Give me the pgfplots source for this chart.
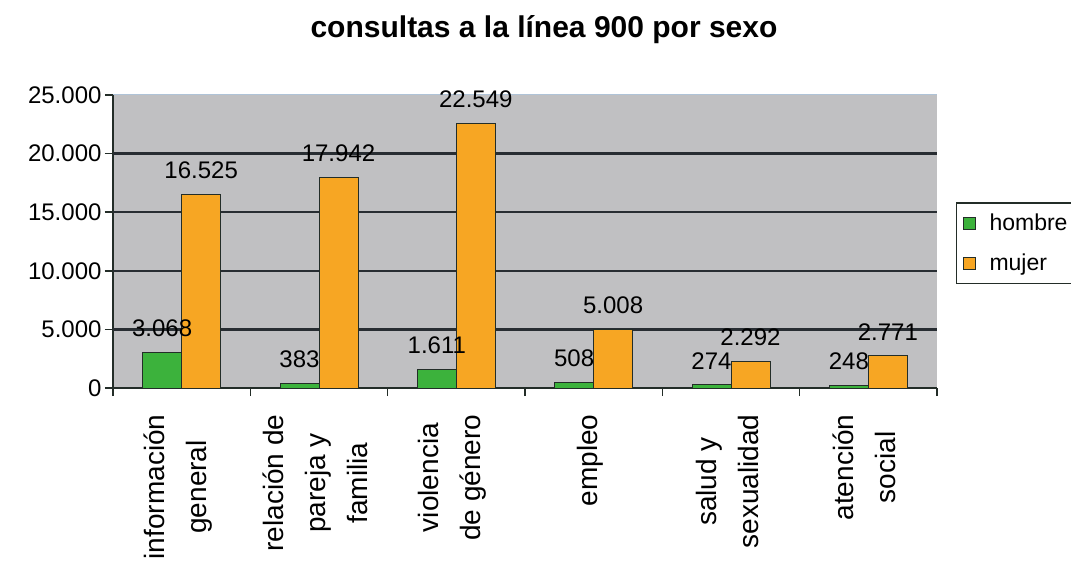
\documentclass[border=0pt]{standalone}
\usepackage{fontspec}
\setmainfont{Liberation Sans}
\usepackage{pgfplots}
\pgfplotsset{compat=1.18}
\definecolor{bgc}{RGB}{192,192,194}
\definecolor{gridc}{RGB}{40,45,50}
\definecolor{lightgridc}{RGB}{175,195,215}
\definecolor{hgreen}{RGB}{60,178,60}
\definecolor{morange}{RGB}{247,166,35}
\definecolor{edgec}{RGB}{35,45,40}
\begin{document}
\begin{tikzpicture}[x=1pt,y=1pt]
\useasboundingbox (0,0) rectangle (1071,568);
\node[font=\fontsize{30}{36}\selectfont\bfseries] at (544,538) {consultas a la línea 900 por sexo};
\begin{axis}[
  at={(113pt,180pt)}, anchor=south west,
  scale only axis, width=824pt, height=293pt,
  xmin=-0.5, xmax=5.5, ymin=0, ymax=25000,
  ybar=0pt, bar width=39pt,
  axis background/.style={fill=bgc},
  axis x line*=bottom, axis y line*=left,
  axis line style={-, line width=1.6pt, color=edgec},
  /pgf/number format/1000 sep={.},
  /pgf/number format/assume math mode=true,
  scaled y ticks=false,
  ytick={0,5000,10000,15000,20000,25000},
  yticklabel style={font=\fontsize{24}{28}\selectfont},
  xtick align=outside, ytick align=outside,
  xtick pos=bottom, ytick pos=left,
  major tick length=8pt,
  tick style={color=edgec, line width=1.4pt},
  ymajorgrids, major grid style={line width=1pt, color=lightgridc},
  extra y ticks={5000,10000,15000,20000},
  extra y tick labels={,,,},
  extra y tick style={major grid style={line width=2.4pt, color=gridc}},
  xtick={-0.5,0.5,1.5,2.5,3.5,4.5,5.5},
  xticklabels={{información\\general},{relación de\\pareja y\\familia},{violencia\\de género},{empleo},{salud y\\sexualidad},{atención\\social},{}},
  xticklabel style={font=\fontsize{28}{42}\selectfont, xshift=65pt, yshift=-15pt, rotate=90, anchor=east, align=center},
  nodes near coords,
  nodes near coords style={font=\fontsize{24}{28}\selectfont, anchor=south, inner sep=0pt, yshift=15pt, text=black},
  legend style={at={(axis description cs:1.023,0.355)}, anchor=south west, draw=edgec, line width=1.2pt, fill=white, font=\fontsize{23}{26}\selectfont, inner xsep=6pt, inner ysep=9pt, row sep=18pt, /tikz/every odd column/.append style={column sep=12pt}},
  legend image code/.code={\draw[#1, line width=1pt] (0pt,-6pt) rectangle (12pt,6pt);},
  legend cell align=left,
]
\addplot[fill=hgreen, draw=edgec, line width=1pt] coordinates {(0,3068) (1,383) (2,1611) (3,508) (4,274) (5,248)};
\addplot[fill=morange, draw=edgec, line width=1pt] coordinates {(0,16525) (1,17942) (2,22549) (3,5008) (4,2292) (5,2771)};
\legend{hombre,mujer}
\end{axis}
\end{tikzpicture}
\end{document}
